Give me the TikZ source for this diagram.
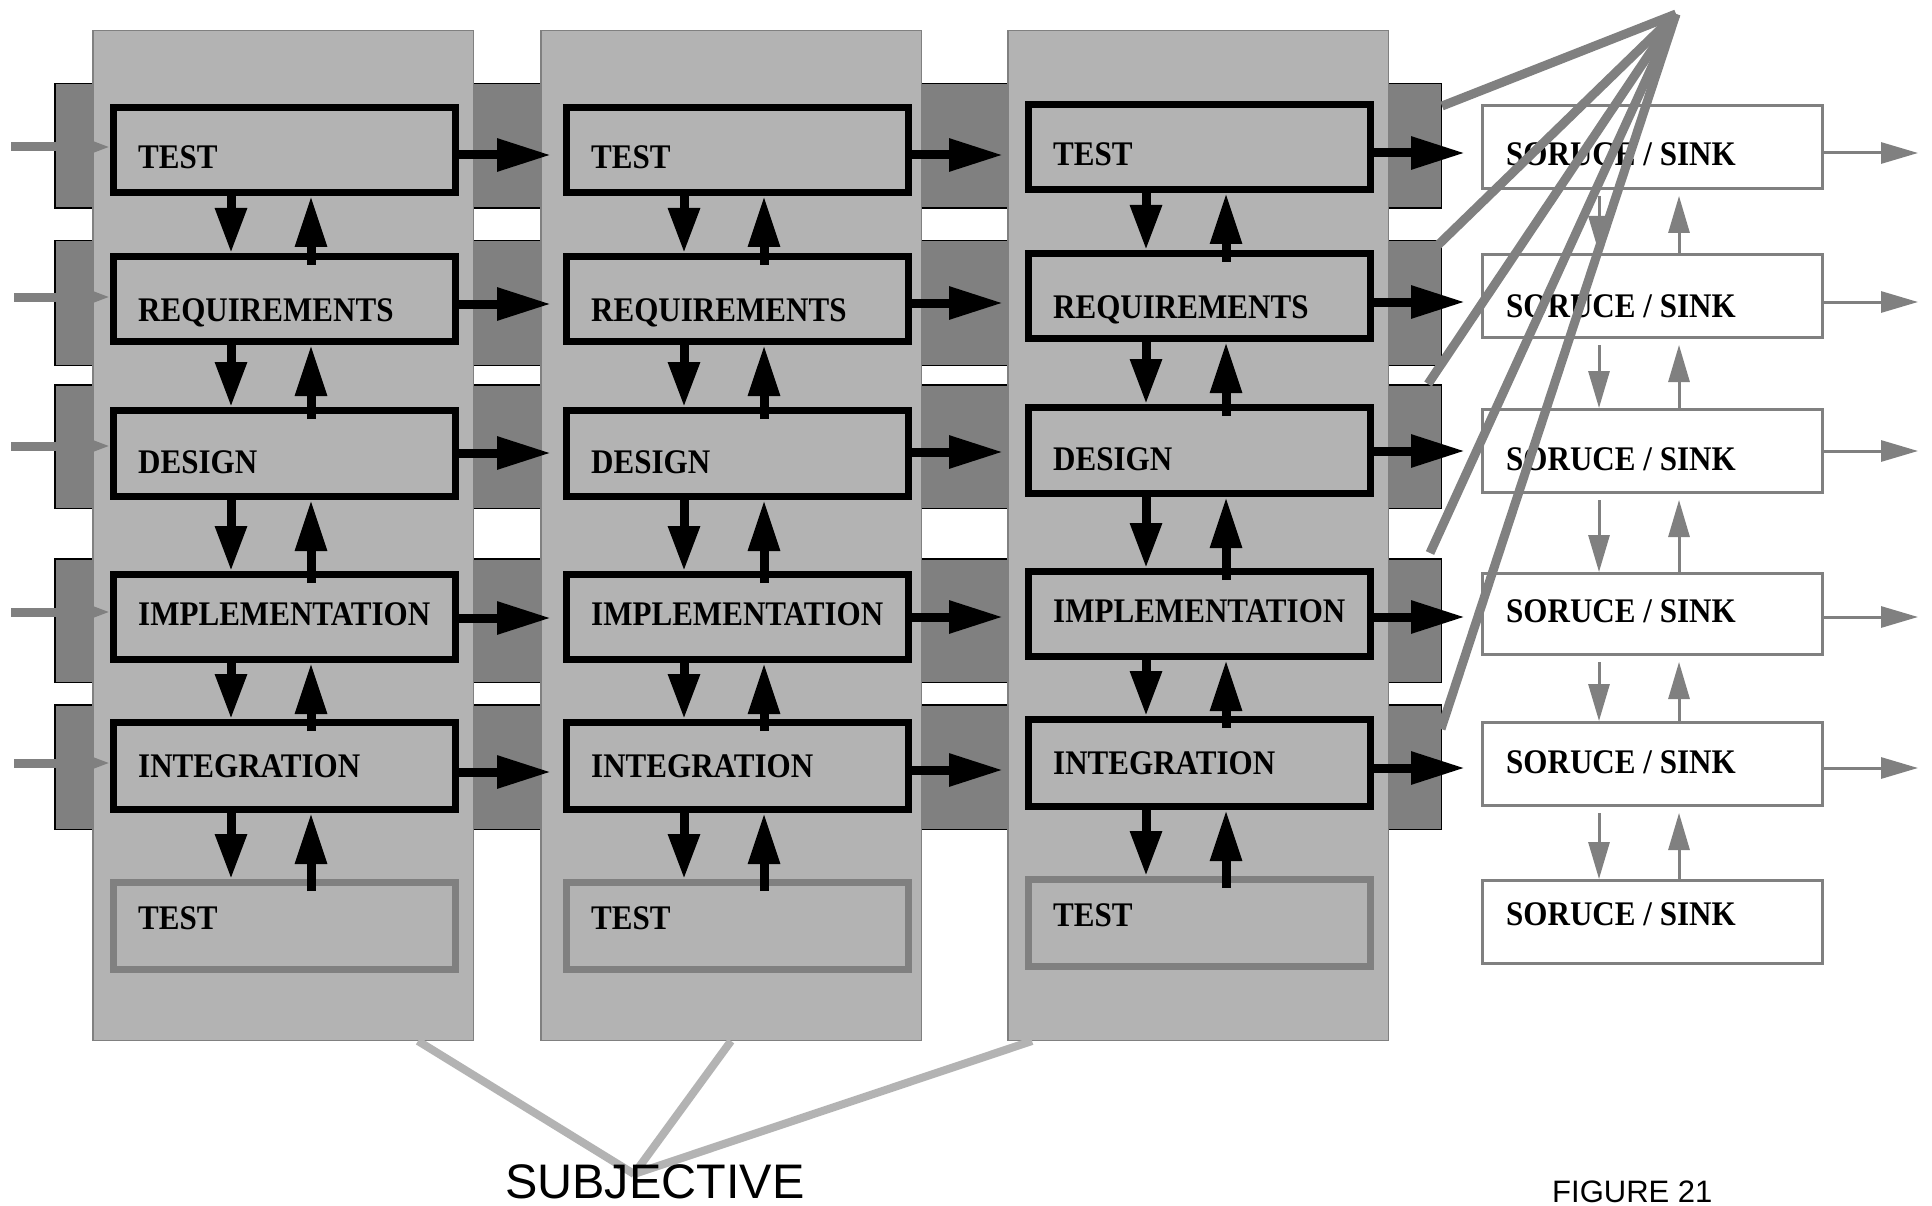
\documentclass[tikz,border=0pt]{standalone}
\usepackage{fontspec}
\setmainfont{Liberation Serif}
\newfontfamily\boxfont{Liberation Serif}[FakeStretch=0.9]
\newfontfamily\capfont{Liberation Sans}
\usetikzlibrary{arrows.meta,calc}
\definecolor{gD}{HTML}{808080}
\definecolor{gL}{HTML}{B3B3B3}
\begin{document}
\begin{tikzpicture}[x=1pt,y=-1pt,line cap=butt,
  band/.style={draw=black,fill=gD,line width=1.5pt,inner sep=0pt,minimum width=1386.5pt},
  panel/.style={draw=gD,fill=gL,line width=1.5pt,inner sep=0pt,minimum width=380.5pt,minimum height=1009.5pt},
  stagebox/.style={draw=black,line width=7pt,inner sep=0pt,minimum width=342pt},
  testbox/.style={draw=gD,line width=7pt,inner sep=0pt,minimum width=342pt},
  lbl/.style={anchor=base west,inner sep=0pt,font=\boxfont\bfseries\fontsize{34.5}{40}\selectfont},
  sinkbox/.style={draw=gD,fill=white,line width=3pt,inner sep=0pt,minimum width=340pt},
  downarrow/.style={draw=black,line width=9pt,-{Triangle[length=45pt,width=30pt]}},
  uparrow/.style={draw=black,line width=9pt,-{Triangle[length=51pt,width=30pt]}},
  flowarrow/.style={draw=black,line width=9pt,-{Triangle[length=54pt,width=31pt]}},
  grayin/.style={draw=gD,line width=9pt,-{Triangle[length=18pt,width=11pt]}},
  grayout/.style={draw=gD,fill=gD,line width=3pt,-{Triangle[length=37pt,width=21pt]}},
  fan/.style={draw=gD,line width=9pt},
  subjline/.style={draw=gL,line width=8pt}]
\fill[white,use as bounding box] (0,0) rectangle (1932,1206);

% horizontal bands
\foreach \ii/\yc/\hh in {1/146/124.5, 2/303/124.5, 3/446.5/123.5, 4/620.5/123.5, 5/767/124.5}
  \node[band,minimum height=\hh] (b\ii) at (748,\yc) {};

% column panels
\foreach \cc/\xc in {1/283, 2/731, 3/1198}
  \node[panel] (p\cc) at (\xc,535.5) {};

% stage boxes and labels
\foreach \cc/\cx/\tx/\up in {1/284.5/138/0, 2/737.5/591/0, 3/1199.5/1053/3} {
  \foreach \rr/\yc/\hh/\lab/\bl in {1/150/85/TEST/169, 2/299/85/REQUIREMENTS/321, 3/453.5/86/DESIGN/473, 4/617/85/IMPLEMENTATION/625, 5/766/87/INTEGRATION/777} {
    \node[stagebox,minimum height=\hh] (c\cc r\rr) at (\cx,\yc-\up) {};
    \node[lbl] (l\cc r\rr) at (\tx,\bl-\up) {\lab};
  }
  \node[testbox,minimum height=87] (c\cc r6) at (\cx,926-\up) {};
  \node[lbl] (l\cc r6) at (\tx,929-\up) {TEST};
}

% vertical arrows inside columns
\foreach \cc in {1,2,3} {
  \foreach \rr/\nn in {1/2,2/3,3/4,4/5,5/6} {
    \draw[downarrow] ($(c\cc r\rr.south west)+(121,0)$) -- ($(c\cc r\nn.north west)+(121,0)$);
    \draw[uparrow] ($(c\cc r\nn.north west)+(201,12)$) -- ($(c\cc r\rr.south west)+(201,0)$);
  }
}

% sink boxes
\foreach \rr/\yc/\hh/\bl in {1/147/83/166, 2/296/83/317, 3/451/83/470, 4/614/81/622, 5/764/83/773, 6/922/83/925} {
  \node[sinkbox,minimum height=\hh] (s\rr) at (1652.5,\yc) {};
  \node[lbl] (ls\rr) at (1506,\bl) {SORUCE / SINK};
}

% horizontal flow arrows
\foreach \rr/\ya/\yb/\yc in {1/155/155/153, 2/304/303/302, 3/453/452/451, 4/618/617/617, 5/772/770/768} {
  \coordinate (ya\rr) at (0,\ya);
  \coordinate (yb\rr) at (0,\yb);
  \coordinate (yc\rr) at (0,\yc);
  \draw[flowarrow] (c1r\rr.east |- ya\rr) -- ($(c2r\rr.west |- ya\rr)+(-12,0)$);
  \draw[flowarrow] (c2r\rr.east |- yb\rr) -- ($(c3r\rr.west |- yb\rr)+(-22,0)$);
  \draw[flowarrow] (c3r\rr.east |- yc\rr) -- ($(s\rr.west |- yc\rr)+(-16,0)$);
  \coordinate (o\rr) at (1918,\yc);
  \draw[grayout] (s\rr.east |- yc\rr) -- (o\rr);
}

% incoming gray arrows
\foreach \rr/\yy/\xx in {1/147/11, 2/297/14, 3/446/11, 4/612/11, 5/763/14} {
  \coordinate (in\rr) at (\xx,\yy);
  \draw[grayin] (in\rr) -- (c1r\rr.west |- in\rr);
}

% sink vertical arrows
\foreach \rr/\nn in {1/2,2/3,3/4,4/5,5/6} {
  \draw[grayout] ($(s\rr.south west)+(118,6)$) -- ($(s\nn.north west)+(118,0)$);
  \draw[grayout] ($(s\nn.north west)+(198,0)$) -- ($(s\rr.south west)+(198,6)$);
}

% fan lines
\coordinate (apex) at (1676,14);
\draw[fan] (apex) -- ($(b1.north east)+(0,23)$);
\draw[fan] (apex) -- ($(b2.north east)+(-5,6)$);
\draw[fan] (apex) -- ($(b3.north east)+(-14,0)$);
\draw[fan] (apex) -- ($(b4.north east)+(-12,-5)$);
\draw[fan] (apex) -- ($(b5.north east)+(-1,25)$);

% subjective lines
\coordinate (subj) at (634,1174);
\draw[subjline] ($(p1.south west)+(326,0)$) -- (subj);
\draw[subjline] (p2.south) -- (subj);
\draw[subjline] ($(p3.south west)+(25,0)$) -- (subj);

\node[anchor=base west,inner sep=0pt,font=\capfont\fontsize{48.5}{55}\selectfont] (subjtxt) at (505,1198) {SUBJECTIVE};
\node[anchor=base west,inner sep=0pt,font=\capfont\fontsize{31}{36}\selectfont] (figtxt) at (1552,1202) {FIGURE 21};
\end{tikzpicture}
\end{document}
